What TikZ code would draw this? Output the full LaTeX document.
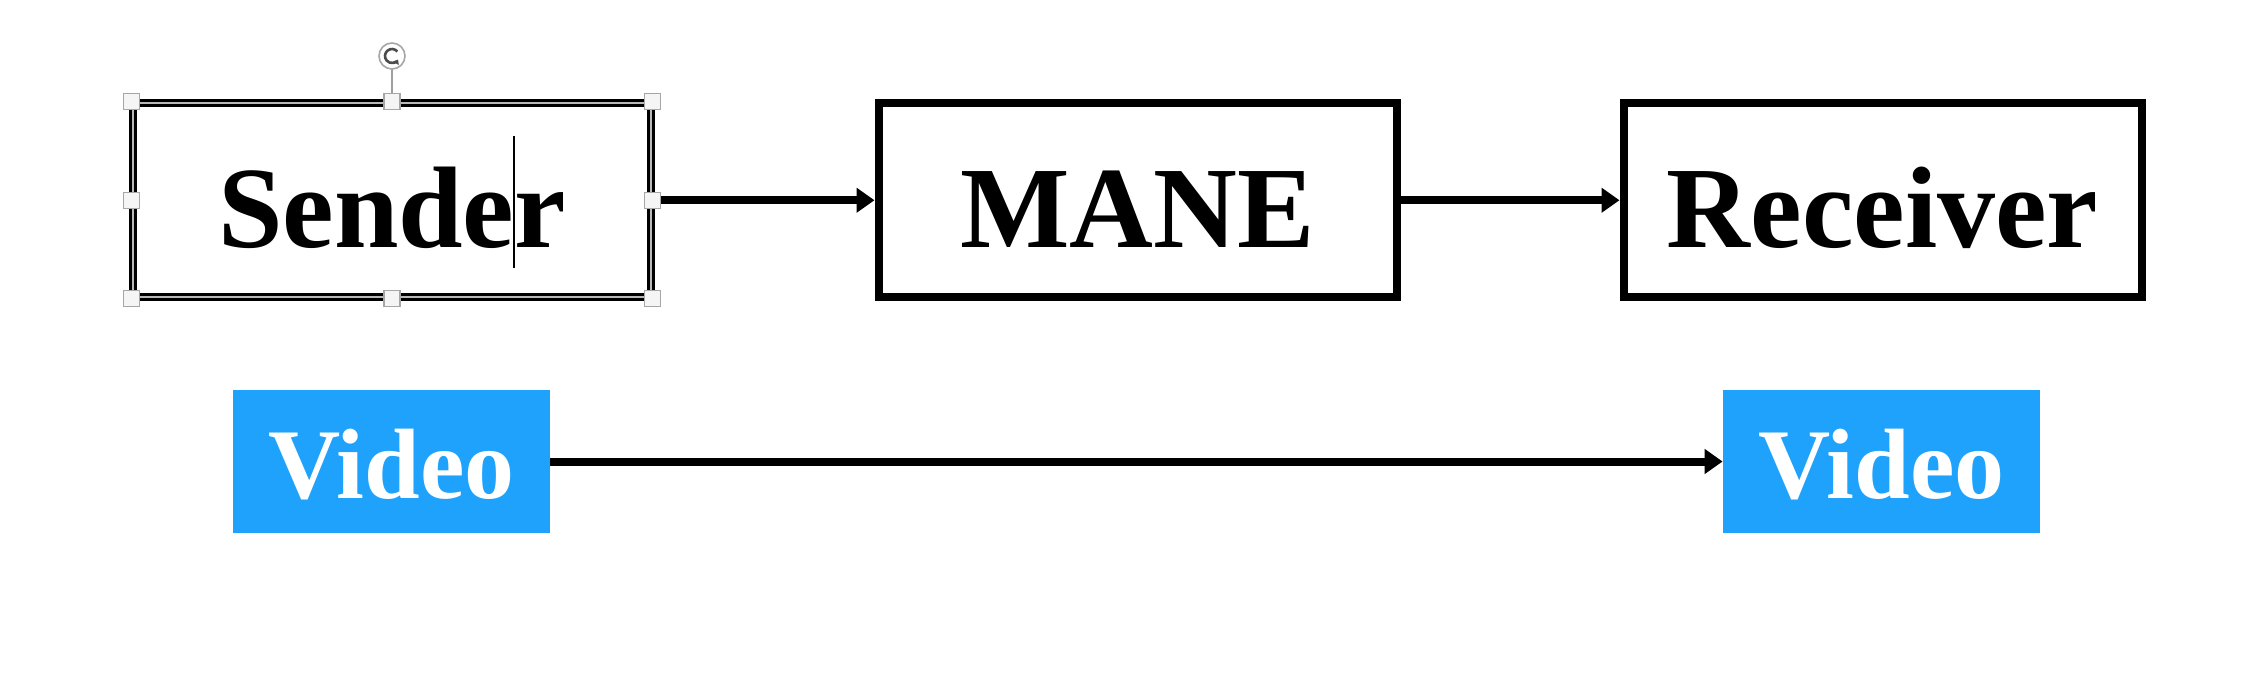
\documentclass[tikz,border=0pt]{standalone}
\usepackage{fontspec}
\setmainfont{Liberation Serif}
\usetikzlibrary{arrows.meta}
\definecolor{vblue}{RGB}{30,162,252}
\begin{document}
\begin{tikzpicture}[x=0.5pt,y=-0.5pt,
  blockbox/.style={draw=black,line width=4pt,minimum width=259pt,minimum height=97pt,inner sep=0pt,
     text height=47.5pt,text depth=0pt,
     font=\fontsize{58}{58}\selectfont\bfseries},
  videobox/.style={fill=vblue,text=white,minimum width=158.5pt,minimum height=71.5pt,inner sep=0pt,
     text height=37pt,text depth=0pt,
     font=\fontsize{50}{50}\selectfont\bfseries},
  flow/.style={line width=4pt,-{Triangle[length=9pt,width=12pt]}},
  handle/.style={draw=gray!70,fill=gray!8,line width=0.6pt,minimum size=8pt,inner sep=0pt}]
\useasboundingbox (0,0) rectangle (2246,690);
% boxes
\node[blockbox,draw=black,double=gray!55,double distance=0.9pt,line width=1.55pt] (sender) at (392,200.25) {Sender};
\node[blockbox] (mane) at (1137.5,200.25) {MANE};
\node[blockbox] (receiver) at (1882.5,200.25) {Receiver};
\node[videobox] (v1) at (391.5,461.5) {Video};
\node[videobox] (v2) at (1881.5,461.5) {Video};
% connectors
\draw[flow] (sender) -- (mane);
\draw[flow] (mane) -- (receiver);
\draw[flow] (v1) -- (v2);
% selection handles (as shown)
\coordinate (rot) at (392,56);
\draw[gray!75,line width=0.9pt] (rot) ++(0,13) -- (sender.north);
\draw[gray!70,fill=white,line width=0.8pt] (rot) circle (6.5pt);
\draw[gray!60!black,line width=1.3pt,-{Triangle[length=2.2pt,width=3.2pt]}] (rot) ++(40:3.5pt) arc (40:330:3.5pt);
\foreach \a in {north west,north,north east,west,east,south west,south,south east}
  \node[handle] at (sender.\a) {};
% text cursor
\draw[black,line width=0.8pt] (514,136) -- (514,268);
\end{tikzpicture}
\end{document}
